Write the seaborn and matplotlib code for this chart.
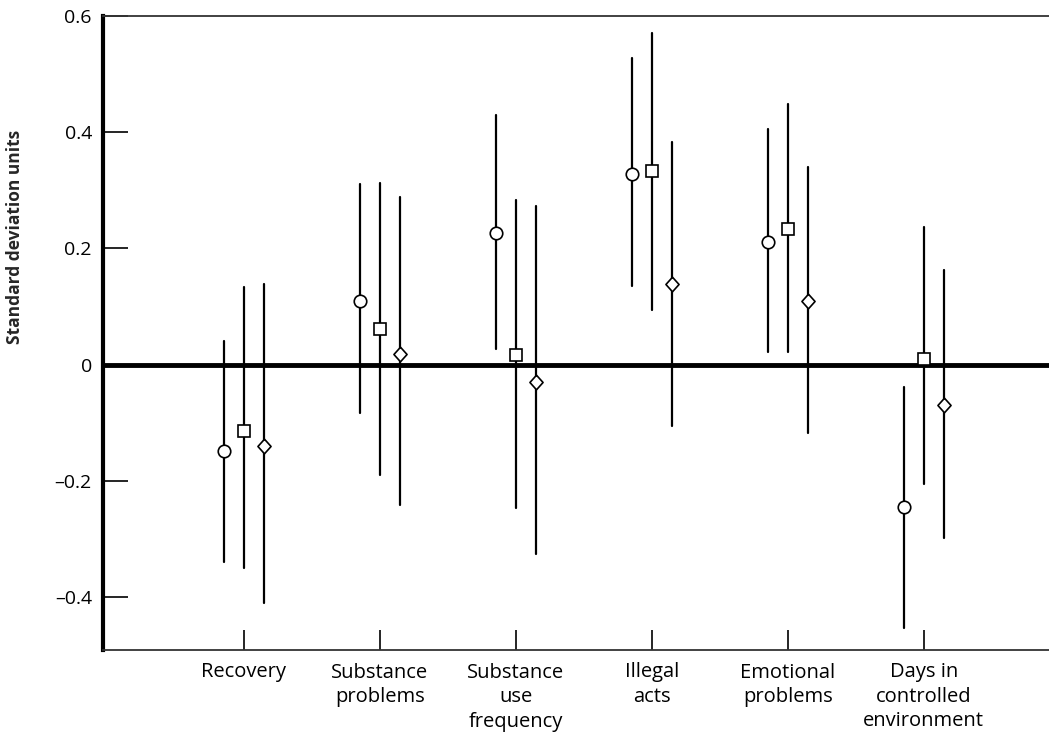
import numpy as np
import pandas as pd
import matplotlib
matplotlib.use("Agg")
import matplotlib.pyplot as plt
import seaborn as sns

# Outcome categories (x axis)
outcomes = ['Recovery', 'Substance\nproblems', 'Substance\nuse\nfrequency',
            'Illegal\nacts', 'Emotional\nproblems', 'Days in\ncontrolled\nenvironment']
groups = ['Group 1', 'Group 2', 'Group 3']

# Point estimates and interval limits, one list per group (circle, square, diamond)
est_1 = [-0.149, 0.110, 0.226, 0.328, 0.211, -0.244]
low_1 = [-0.339, -0.083, 0.027, 0.135, 0.021, -0.453]
high_1 = [0.041, 0.311, 0.429, 0.527, 0.405, -0.038]

est_2 = [-0.114, 0.061, 0.017, 0.333, 0.233, 0.010]
low_2 = [-0.349, -0.190, -0.247, 0.094, 0.021, -0.205]
high_2 = [0.133, 0.313, 0.283, 0.571, 0.449, 0.236]

est_3 = [-0.139, 0.018, -0.029, 0.138, 0.109, -0.070]
low_3 = [-0.410, -0.242, -0.325, -0.105, -0.117, -0.298]
high_3 = [0.139, 0.288, 0.272, 0.383, 0.340, 0.162]

ytick_vals = [0.6, 0.4, 0.2, 0, -0.2, -0.4]
ytick_labels = ['0.6', '0.4', '0.2', '0', '\u20130.2', '\u20130.4']


def build_frame():
    rows = []
    series = [(est_1, low_1, high_1), (est_2, low_2, high_2), (est_3, low_3, high_3)]
    for g, (est, lo, hi) in zip(groups, series):
        for i, cat in enumerate(outcomes):
            for v in (lo[i], est[i], hi[i]):
                rows.append({'outcome': cat, 'group': g, 'value': v})
    return pd.DataFrame(rows)


def main():
    df = build_frame()
    sns.set_style('white')
    plt.rcParams['font.family'] = ['Open Sans', 'DejaVu Sans']
    plt.rcParams['text.color'] = 'black'
    plt.rcParams['xtick.color'] = 'black'
    plt.rcParams['ytick.color'] = 'black'

    fig = plt.figure(figsize=(10.49, 7.40), dpi=100)
    ax = fig.add_axes([103 / 1049, 90 / 740, 1 - 103 / 1049, (650 - 15.7) / 740])

    # median of (low, est, high) is the estimate, full range gives the interval
    sns.pointplot(data=df, x='outcome', y='value', hue='group', order=outcomes,
                  hue_order=groups, estimator='median',
                  errorbar=lambda v: (v.min(), v.max()),
                  dodge=0.294, markers=['o', 's', 'd'], linestyles='none',
                  palette=['black'] * 3, err_kws={'linewidth': 1.6},
                  markersize=8, ax=ax, legend=False)

    diamond = [(0, 1), (0.9, 0), (0, -1), (-0.9, 0), (0, 1)]
    for line in ax.lines:
        mk = line.get_marker()
        if mk in (None, 'None', ''):
            continue
        line.set_markerfacecolor('white')
        line.set_markeredgecolor('black')
        line.set_markeredgewidth(1.2)
        line.set_zorder(5)
        if mk == 's':
            line.set_markersize(8)
        elif mk == 'd':
            line.set_marker(diamond)
            line.set_markersize(10.5)
        else:
            line.set_markersize(9)

    ax.axhline(0, color='black', linewidth=3.5, zorder=3)

    ax.set_xlim(-1.035, 5.92)
    ax.set_ylim(-0.4906, 0.6)
    ax.set_yticks(ytick_vals)
    ax.set_yticklabels(ytick_labels, fontsize=14)
    ax.set_xticklabels(outcomes, fontsize=14.5, linespacing=1.3)
    ax.tick_params(axis='y', left=True, direction='in', length=18, width=1.2, pad=8)
    ax.tick_params(axis='x', bottom=True, direction='in', length=14.5, width=1.2, pad=9)

    ax.set_xlabel('')
    ax.set_ylabel('Standard deviation units', fontsize=12.5, fontweight='bold')
    ax.yaxis.set_label_coords(-0.0835, 0.651)

    ax.spines['right'].set_visible(False)
    ax.spines['left'].set_linewidth(3)
    ax.spines['left'].set_color('black')
    for side in ('top', 'bottom'):
        ax.spines[side].set_linewidth(1.3)
        ax.spines[side].set_color('#333333')

    fig.savefig('out.png', dpi=100)


if __name__ == '__main__':
    main()
